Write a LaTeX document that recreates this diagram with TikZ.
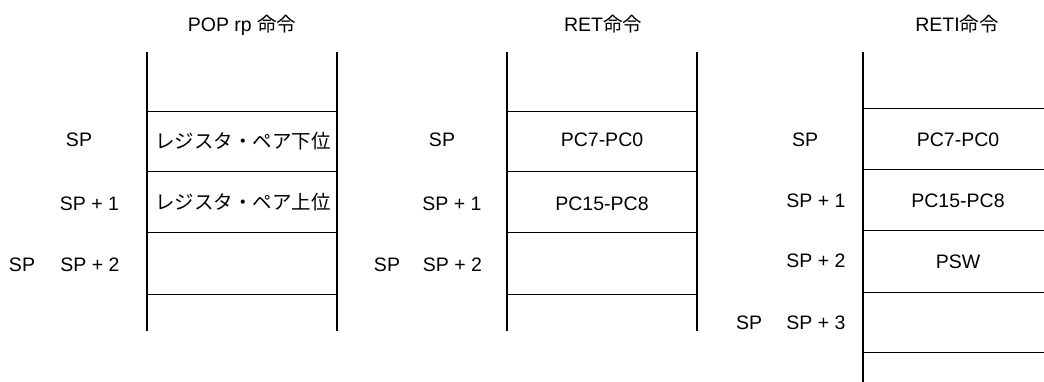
\documentclass[tikz,border=0pt]{standalone}
\usepackage{fontspec}
\setmainfont{Liberation Sans}
\newfontfamily\jp{Noto Sans CJK JP}
\usetikzlibrary{positioning}

\begin{document}
\begin{tikzpicture}[x=1pt, y=-1pt, font=\fontsize{19.5}{22}\selectfont,
    wall/.style={line width=2.5pt},
    slot/.style={line width=1pt}]
    \useasboundingbox (0,0) rectangle (1044,382);

    % POP rp
    \node[anchor=base] (popttl) at (242,32) {POP rp {\jp 命令}};
    \draw[wall] (147,52) -- (147,331);
    \draw[wall] (337,52) -- (337,331);
    \foreach \y in {112,172,233,294} \draw[slot] (147,\y) -- (337,\y);
    \node (poplo) at (243,141) {\jp レジスタ・ペア下位};
    \node (pophi) at (243,202) {\jp レジスタ・ペア上位};
    \node (popsp) at (79,140) {SP};
    \node (popsp1) at (89.5,204) {SP + 1};
    \node (popsp2) at (90,264.5) {SP + 2};
    \node (popnew) at (22,264.5) {SP};

    % RET
    \node[anchor=base] (retttl) at (603,32) {RET{\jp 命令}};
    \draw[wall] (507,52) -- (507,331);
    \draw[wall] (697,52) -- (697,331);
    \foreach \y in {112,172,233,294} \draw[slot] (507,\y) -- (697,\y);
    \node (retlo) at (602,140) {PC7-PC0};
    \node (rethi) at (602,204) {PC15-PC8};
    \node (retsp) at (442,140) {SP};
    \node (retsp1) at (452,204) {SP + 1};
    \node (retsp2) at (452.5,264.5) {SP + 2};
    \node (retnew) at (387,264.5) {SP};

    % RETI
    \node[anchor=base] (retittl) at (957,32) {RETI{\jp 命令}};
    \draw[wall] (863,52) -- (863,382);
    \foreach \y in {109,170,231,292,352} \draw[slot] (863,\y) -- (1044,\y);
    \node (retilo) at (958,139.5) {PC7-PC0};
    \node (retihi) at (958,200.5) {PC15-PC8};
    \node (retipsw) at (958,262) {PSW};
    \node (retisp) at (805,139.5) {SP};
    \node (retisp1) at (816,200.5) {SP + 1};
    \node (retisp2) at (816,261) {SP + 2};
    \node (retisp3) at (816,322.5) {SP + 3};
    \node (retinew) at (749,322.5) {SP};
\end{tikzpicture}
\end{document}
